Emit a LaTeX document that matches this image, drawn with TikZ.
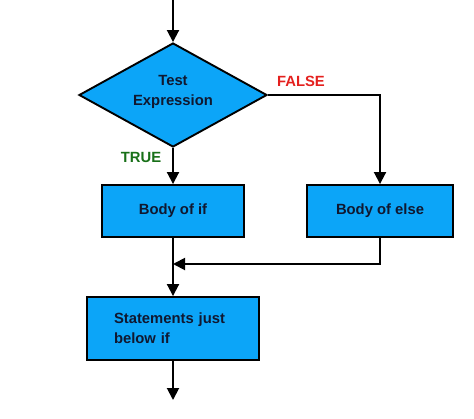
\documentclass[tikz,border=0pt]{standalone}
\usepackage{fontspec}
\setmainfont{Liberation Sans}
\usepackage{xcolor}
\usetikzlibrary{shapes.geometric, arrows.meta, positioning}

\definecolor{boxblue}{RGB}{12,165,248}
\definecolor{txtnavy}{RGB}{16,24,48}
\definecolor{falsered}{RGB}{228,32,30}
\definecolor{truegreen}{RGB}{24,112,24}

\begin{document}
\begin{tikzpicture}[
    x=1bp, y=1bp,
    every node/.style={font=\fontsize{14.8bp}{20bp}\selectfont\bfseries},
    test/.style={diamond, shape aspect=1.8, draw, line width=1.9bp, fill=boxblue, text=txtnavy, minimum width=188bp, minimum height=104bp, align=center, inner sep=0pt},
    body/.style={rectangle, draw, line width=1.9bp, fill=boxblue, text=txtnavy, minimum height=52bp, align=center},
    stmt/.style={rectangle, draw, line width=1.9bp, fill=boxblue, text=txtnavy, minimum width=172bp, minimum height=63bp, text width=118bp, align=left},
    arrow/.style={-{Triangle[width=12bp,length=12bp]}, line width=1.9bp},
    lbl/.style={inner sep=0pt}
]
\useasboundingbox (0,0) rectangle (474,418);

%% ── Decision ─────────────────────────────────────────────────────────
\coordinate (start) at (173,418);
\node[test] (test) at (173,323) {Test\\Expression\rule[-10bp]{0pt}{0pt}};

%% ── Branch bodies ────────────────────────────────────────────────────
\node[body, minimum width=142bp] (bodyif)   at (173,207) {Body of if};
\node[body, minimum width=146bp] (bodyelse) at (380,207) {Body of else};

%% ── After the if ─────────────────────────────────────────────────────
\coordinate (merge) at (173,154);
\node[stmt] (below) at (173,89.5) {Statements just\\below if};
\coordinate (finish) at (173,18);

%% ── Labels ───────────────────────────────────────────────────────────
\node[lbl, text=falsered]  (falselbl) at (301,337) {FALSE};
\node[lbl, text=truegreen] (truelbl)  at (141,261) {TRUE};

%% ── Arrows ───────────────────────────────────────────────────────────
\draw[arrow] (start) -- (test.north);
\draw[arrow] (test.south) -- (bodyif.north);
\draw[arrow] (test.east) -| (bodyelse.north);
\draw[arrow] (bodyif.south) -- (below.north);
\draw[arrow] (bodyelse.south) |- (merge);
\draw[arrow] (below.south) -- (finish);

\end{tikzpicture}
\end{document}
